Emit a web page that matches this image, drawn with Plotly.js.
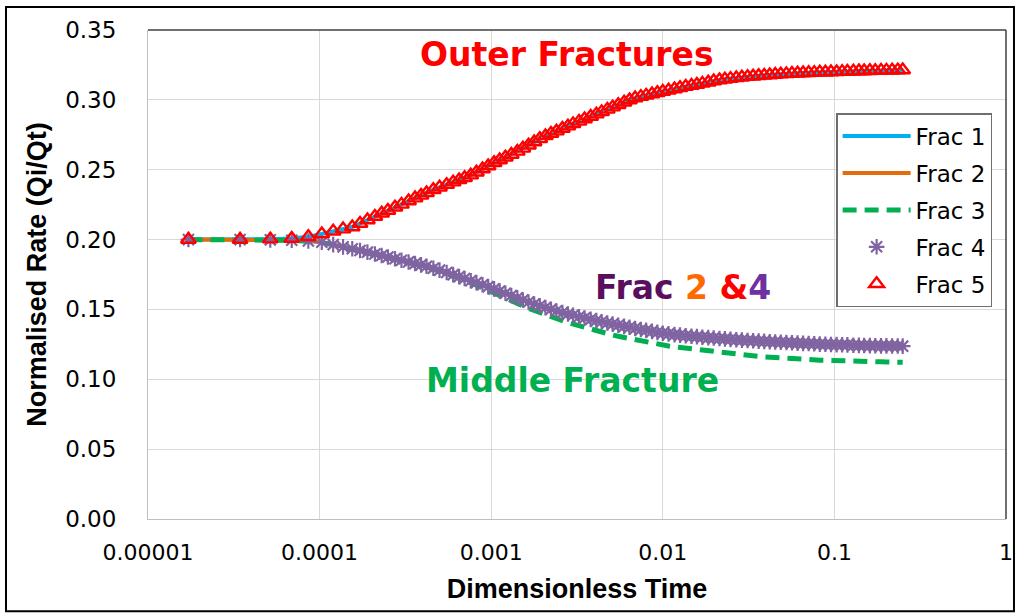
<!DOCTYPE html>
<html>
<head>
<meta charset="utf-8">
<script src="https://cdn.plot.ly/plotly-3.0.1.min.js"></script>
<style>
  html, body { margin: 0; padding: 0; background: #ffffff; }
  #chart { width: 1018px; height: 615px; }
</style>
</head>
<body>
<div id="chart"></div>
<script>
// Dimensionless time (x values shared by all fractures)
const dimensionlessTime = [
  1.72e-5, 3.44e-5, 5.16e-5, 6.88e-5, 8.6e-5, 1.03e-4, 1.2e-4, 1.37e-4, 1.55e-4, 1.72e-4,
  1.9e-4, 2.1e-4, 2.3e-4, 2.5e-4, 2.75e-4, 3.0e-4, 3.3e-4, 3.6e-4, 3.9e-4, 4.2e-4,
  4.6e-4, 5.0e-4, 5.5e-4, 6.0e-4, 6.5e-4, 7.0e-4, 7.6e-4, 8.2e-4, 8.9e-4, 9.6e-4,
  1.04e-3, 1.12e-3, 1.21e-3, 1.31e-3, 1.42e-3, 1.53e-3, 1.65e-3, 1.78e-3, 1.92e-3, 2.07e-3,
  2.23e-3, 2.4e-3, 2.6e-3, 2.8e-3, 3.0e-3, 3.25e-3, 3.5e-3, 3.8e-3, 4.1e-3, 4.4e-3,
  4.75e-3, 5.1e-3, 5.5e-3, 5.95e-3, 6.4e-3, 6.9e-3, 7.45e-3, 8.0e-3, 8.65e-3, 9.3e-3,
  0.01, 0.0108, 0.0117, 0.0126, 0.0136, 0.0147, 0.0158, 0.017, 0.0184, 0.0198,
  0.0214, 0.023, 0.0248, 0.0268, 0.0289, 0.0312, 0.0336, 0.0362, 0.039, 0.042,
  0.0452, 0.0487, 0.0525, 0.0566, 0.061, 0.0657, 0.0708, 0.0763, 0.0822, 0.0886,
  0.0955, 0.103, 0.111, 0.119, 0.129, 0.139, 0.149, 0.161, 0.173, 0.187,
  0.201, 0.217, 0.234, 0.25
];

// Outer fractures (Frac 1 and Frac 5)
const outerRate = [
  0.2000, 0.2000, 0.2003, 0.2008, 0.2020, 0.2040, 0.2060, 0.2075, 0.2090, 0.2115,
  0.2140, 0.2165, 0.2188, 0.2208, 0.2231, 0.2252, 0.2276, 0.2297, 0.2316, 0.2334,
  0.2356, 0.2374, 0.2393, 0.2411, 0.2427, 0.2442, 0.2461, 0.2482, 0.2505, 0.2527,
  0.2550, 0.2569, 0.2589, 0.2609, 0.2631, 0.2653, 0.2675, 0.2698, 0.2721, 0.2742,
  0.2759, 0.2776, 0.2795, 0.2812, 0.2828, 0.2846, 0.2863, 0.2881, 0.2898, 0.2914,
  0.2932, 0.2948, 0.2965, 0.2983, 0.2999, 0.3013, 0.3023, 0.3032, 0.3042, 0.3051,
  0.3060, 0.3069, 0.3078, 0.3086, 0.3095, 0.3103, 0.3110, 0.3118, 0.3126, 0.3135,
  0.3142, 0.3147, 0.3152, 0.3157, 0.3162, 0.3166, 0.3169, 0.3172, 0.3175, 0.3178,
  0.3181, 0.3184, 0.3186, 0.3188, 0.3190, 0.3192, 0.3194, 0.3195, 0.3197, 0.3198,
  0.3199, 0.3200, 0.3202, 0.3203, 0.3205, 0.3206, 0.3207, 0.3208, 0.3209, 0.3210,
  0.3211, 0.3212, 0.3213, 0.3214
];

// Inner fractures (Frac 2 and Frac 4)
const innerRate = [
  0.2000, 0.2000, 0.1998, 0.1995, 0.1990, 0.1981, 0.1964, 0.1948, 0.1934, 0.1922,
  0.1910, 0.1897, 0.1886, 0.1875, 0.1863, 0.1852, 0.1840, 0.1829, 0.1819, 0.1809,
  0.1795, 0.1781, 0.1764, 0.1749, 0.1735, 0.1721, 0.1705, 0.1692, 0.1677, 0.1663,
  0.1647, 0.1632, 0.1616, 0.1600, 0.1583, 0.1567, 0.1553, 0.1539, 0.1526, 0.1513,
  0.1501, 0.1489, 0.1477, 0.1467, 0.1458, 0.1448, 0.1439, 0.1429, 0.1420, 0.1412,
  0.1403, 0.1395, 0.1387, 0.1379, 0.1372, 0.1364, 0.1356, 0.1350, 0.1343, 0.1336,
  0.1330, 0.1325, 0.1320, 0.1316, 0.1312, 0.1308, 0.1305, 0.1301, 0.1298, 0.1295,
  0.1292, 0.1289, 0.1286, 0.1283, 0.1280, 0.1278, 0.1276, 0.1273, 0.1271, 0.1269,
  0.1267, 0.1265, 0.1263, 0.1261, 0.1259, 0.1257, 0.1256, 0.1254, 0.1252, 0.1251,
  0.1249, 0.1248, 0.1247, 0.1246, 0.1244, 0.1243, 0.1242, 0.1241, 0.1240, 0.1239,
  0.1239, 0.1238, 0.1238, 0.1237
];

// Middle fracture (Frac 3)
const middleRate = [
  0.2000, 0.2000, 0.1997, 0.1994, 0.1988, 0.1979, 0.1962, 0.1946, 0.1932, 0.1920,
  0.1907, 0.1894, 0.1882, 0.1871, 0.1859, 0.1848, 0.1836, 0.1825, 0.1814, 0.1804,
  0.1789, 0.1775, 0.1757, 0.1741, 0.1726, 0.1710, 0.1692, 0.1675, 0.1656, 0.1638,
  0.1619, 0.1601, 0.1583, 0.1564, 0.1544, 0.1526, 0.1508, 0.1492, 0.1476, 0.1461,
  0.1447, 0.1433, 0.1419, 0.1406, 0.1395, 0.1382, 0.1370, 0.1357, 0.1346, 0.1336,
  0.1326, 0.1317, 0.1308, 0.1299, 0.1291, 0.1282, 0.1273, 0.1265, 0.1257, 0.1250,
  0.1243, 0.1238, 0.1232, 0.1227, 0.1222, 0.1217, 0.1212, 0.1207, 0.1201, 0.1196,
  0.1192, 0.1188, 0.1184, 0.1179, 0.1175, 0.1171, 0.1167, 0.1164, 0.1160, 0.1157,
  0.1154, 0.1151, 0.1149, 0.1147, 0.1145, 0.1143, 0.1141, 0.1139, 0.1137, 0.1136,
  0.1134, 0.1133, 0.1132, 0.1131, 0.1130, 0.1129, 0.1128, 0.1127, 0.1126, 0.1125,
  0.1124, 0.1123, 0.1123, 0.1122
];

const seriesNames = ['Frac 1', 'Frac 2', 'Frac 3', 'Frac 4', 'Frac 5'];
const xTickValues = [0.00001, 0.0001, 0.001, 0.01, 0.1, 1];
const xTickLabels = ['0.00001', '0.0001', '0.001', '0.01', '0.1', '1'];
const yTickValues = [0, 0.05, 0.10, 0.15, 0.20, 0.25, 0.30, 0.35];
const yTickLabels = ['0.00', '0.05', '0.10', '0.15', '0.20', '0.25', '0.30', '0.35'];

const traces = [
  { x: dimensionlessTime, y: outerRate, name: seriesNames[0], legendgroup: 'g1',
    type: 'scatter', mode: 'lines', line: { color: '#00b0f0', width: 4 } },
  { x: dimensionlessTime, y: innerRate, name: seriesNames[1], legendgroup: 'g2',
    type: 'scatter', mode: 'lines', line: { color: '#e46c0a', width: 4 } },
  { x: dimensionlessTime, y: middleRate, name: seriesNames[2], legendgroup: 'g3',
    type: 'scatter', mode: 'lines', line: { color: '#00b050', width: 5, dash: '14px,8px' } },
  { x: dimensionlessTime, y: innerRate, name: seriesNames[3], legendgroup: 'g4',
    type: 'scatter', mode: 'markers',
    marker: { symbol: 'asterisk-open', size: 13, color: '#8064a2', line: { color: '#8064a2', width: 2.2 } } },
  { x: dimensionlessTime, y: outerRate, name: seriesNames[4], legendgroup: 'g5',
    type: 'scatter', mode: 'markers',
    marker: { symbol: 'triangle-up-open', size: 13, color: '#ff0000', line: { color: '#ff0000', width: 2.4 } } }
];

const layout = {
  width: 1018, height: 615,
  margin: { l: 148, r: 12, t: 30, b: 96 },
  paper_bgcolor: '#ffffff', plot_bgcolor: '#ffffff',
  showlegend: true,
  legend: {
    x: 0.802, y: 0.830, xanchor: 'left', yanchor: 'top',
    bgcolor: '#ffffff', bordercolor: '#6e6e6e', borderwidth: 1.5,
    font: { family: 'DejaVu Sans, Verdana, sans-serif', size: 23, color: '#000000' },
    traceorder: 'grouped', tracegroupgap: 4, itemwidth: 68
  },
  xaxis: {
    type: 'log', range: [-5, 0],
    tickvals: xTickValues, ticktext: xTickLabels,
    showgrid: true, gridcolor: '#d9d9d9', gridwidth: 1,
    showline: true, linecolor: '#bfbfbf', linewidth: 1,
    zeroline: false, ticks: '', ticklabelstandoff: 14,
    tickfont: { family: 'DejaVu Sans, Verdana, sans-serif', size: 22, color: '#000000' },
    title: { text: 'Dimensionless Time', standoff: 14,
      font: { family: 'Liberation Sans, Arial, sans-serif', size: 27, color: '#000000', weight: 'bold' } }
  },
  yaxis: {
    range: [0, 0.35],
    tickvals: yTickValues, ticktext: yTickLabels,
    showgrid: true, gridcolor: '#d9d9d9', gridwidth: 1,
    showline: true, linecolor: '#bfbfbf', linewidth: 1,
    zeroline: false, ticks: '', ticklabelstandoff: 26,
    tickfont: { family: 'DejaVu Sans, Verdana, sans-serif', size: 23, color: '#000000' },
    title: { text: 'Normalised Rate (Qi/Qt)', standoff: 10,
      font: { family: 'Liberation Sans, Arial, sans-serif', size: 27, color: '#000000', weight: 'bold' } }
  },
  shapes: [
    { type: 'line', xref: 'paper', yref: 'paper', x0: 0, x1: 1, y0: 1, y1: 1,
      line: { color: '#404040', width: 1.5 } },
    { type: 'line', xref: 'paper', yref: 'paper', x0: 1, x1: 1, y0: 0, y1: 1,
      line: { color: '#404040', width: 1.5 } },
    { type: 'rect', xref: 'paper', yref: 'paper',
      x0: -0.1655, x1: 1.0093, y0: -0.1889, y1: 1.047,
      line: { color: '#000000', width: 2 } }
  ],
  annotations: [
    { xref: 'paper', yref: 'paper', x: 0.488, y: 0.949, xanchor: 'center', yanchor: 'middle',
      showarrow: false, text: '<b>Outer Fractures</b>',
      font: { family: 'DejaVu Sans, sans-serif', size: 33, color: '#ff0000' } },
    { xref: 'paper', yref: 'paper', x: 0.6235, y: 0.474, xanchor: 'center', yanchor: 'middle',
      showarrow: false,
      text: '<b><span style="color:#5a0f5e">Frac </span><span style="color:#ff6a00">2 </span><span style="color:#ff0000">&amp;</span><span style="color:#7030a0">4</span></b>',
      font: { family: 'DejaVu Sans, sans-serif', size: 33, color: '#5a0f5e' } },
    { xref: 'paper', yref: 'paper', x: 0.495, y: 0.284, xanchor: 'center', yanchor: 'middle',
      showarrow: false, text: '<b>Middle Fracture</b>',
      font: { family: 'DejaVu Sans, sans-serif', size: 33, color: '#00b050' } }
  ]
};

Plotly.newPlot('chart', traces, layout, { displayModeBar: false, staticPlot: true });
</script>
</body>
</html>
